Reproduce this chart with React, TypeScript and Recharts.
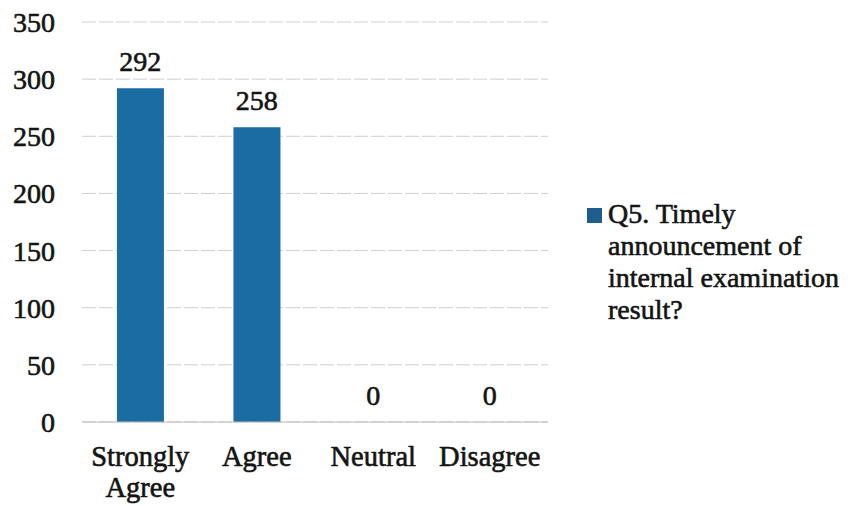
import React from "react";
import { ComposedChart, Bar, Line, XAxis, YAxis, CartesianGrid, LabelList } from "recharts";

const categories = ["Strongly Agree", "Agree", "Neutral", "Disagree"];
const responses = [292, 258, 0, 0];
const yTicks = [0, 50, 100, 150, 200, 250, 300, 350];
const seriesName = "Q5. Timely announcement of internal examination result?";
const legendLines = ["Q5. Timely", "announcement of", "internal examination", "result?"];

const data = categories.map((c, i) => ({ category: c, value: responses[i] }));

const FONT = "\"Liberation Serif\", serif";
const BAR_COLOR = "#1a6ca3";
const TEXT = "#141414";
const THICK = 0.6;

function wrap(label: string, maxChars: number): string[] {
  const words = label.split(" ");
  const lines: string[] = [];
  let cur = "";
  for (const w of words) {
    const next = cur ? cur + " " + w : w;
    if (next.length > maxChars && cur) {
      lines.push(cur);
      cur = w;
    } else cur = next;
  }
  if (cur) lines.push(cur);
  return lines;
}

const XTick = (props: any) => {
  const { x, y, payload } = props;
  const lines = wrap(String(payload.value), 10);
  return (
    <text
      x={x}
      y={y}
      textAnchor="middle"
      fill={TEXT}
      stroke={TEXT}
      strokeWidth={THICK}
      style={{ fontFamily: FONT }}
      fontSize={28.5}
    >
      {lines.map((l, i) => (
        <tspan key={i} x={x} y={y + 36 + i * 31}>
          {l}
        </tspan>
      ))}
    </text>
  );
};

export default function App() {
  return (
    <div style={{ position: "absolute", left: 0, top: 0, width: 855, height: 506, background: "#fff", fontFamily: FONT }}>
      <ComposedChart
        width={855}
        height={506}
        data={data}
        margin={{ top: 22, right: 307, bottom: 0, left: 0 }}
        barCategoryGap="30%"
        style={{ fontFamily: FONT }}
      >
        <CartesianGrid vertical={false} stroke="#cfcfcf" strokeWidth={1} strokeDasharray="14 3" />
        <XAxis
          dataKey="category"
          axisLine={{ stroke: "#bdbdbd" }}
          tickLine={false}
          height={84}
          interval={0}
          tick={<XTick />}
        />
        <YAxis
          domain={[0, 350]}
          ticks={yTicks}
          width={82}
          axisLine={false}
          tickLine={false}
          tickMargin={21}
          tick={{ fill: TEXT, stroke: TEXT, strokeWidth: THICK, fontFamily: FONT, fontSize: 28 }}
        />
        <Bar dataKey="value" name={seriesName} fill={BAR_COLOR} isAnimationActive={false} />
        <Line
          dataKey="value"
          stroke="none"
          dot={false}
          activeDot={false}
          legendType="none"
          isAnimationActive={false}
        >
          <LabelList
            dataKey="value"
            position="top"
            offset={17}
            fill={TEXT}
            stroke={TEXT}
            strokeWidth={THICK}
            fontFamily={FONT}
            fontSize={28}
          />
        </Line>
      </ComposedChart>
      <div
        style={{
          position: "absolute",
          left: 587,
          top: 198,
          fontFamily: FONT,
          fontSize: 28,
          lineHeight: "32px",
          color: TEXT,
          WebkitTextStroke: `${THICK}px ${TEXT}`,
        }}
      >
        {legendLines.map((l, i) => (
          <div key={i} style={{ position: "relative", paddingLeft: i === 0 ? 0 : 21, whiteSpace: "nowrap" }}>
            {i === 0 && (
              <span
                style={{
                  display: "inline-block",
                  width: 15,
                  height: 15,
                  background: "#1d5e8e",
                  marginRight: 6,
                  verticalAlign: "0px",
                }}
              />
            )}
            {l}
          </div>
        ))}
      </div>
    </div>
  );
}
